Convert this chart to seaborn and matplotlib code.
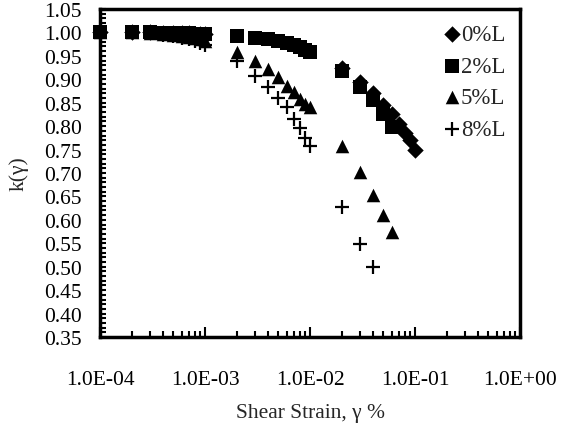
import numpy as np
import pandas as pd
import matplotlib
matplotlib.use("Agg")
import matplotlib.pyplot as plt
import seaborn as sns
from matplotlib.ticker import MultipleLocator, LogLocator, NullFormatter, FormatStrFormatter

# shear strain (%) and k(gamma) for each lime content
strain_lo = [1e-4, 2e-4, 3e-4, 4e-4, 5e-4, 6e-4, 7e-4, 8e-4, 9e-4, 1e-3]
strain_mid = [2e-3, 3e-3, 4e-3, 5e-3, 6e-3, 7e-3, 8e-3, 9e-3, 1e-2]

x_0 = strain_lo + [2e-2, 3e-2, 4e-2, 5e-2, 6e-2, 7e-2, 8e-2, 9e-2, 1e-1]
k_0 = [1.0, 1.0, 1.0, 0.999, 0.999, 0.998, 0.998, 0.997, 0.997, 0.996,
       0.925, 0.895, 0.87, 0.845, 0.825, 0.805, 0.785, 0.77, 0.75]

x_2 = strain_lo + strain_mid + [2e-2, 3e-2, 4e-2, 5e-2, 6e-2]
k_2 = [1.0, 1.0, 1.0, 0.999, 0.999, 0.998, 0.998, 0.997, 0.997, 0.996,
       0.992, 0.989, 0.985, 0.981, 0.977, 0.973, 0.968, 0.963, 0.958,
       0.918, 0.884, 0.855, 0.826, 0.798]

x_5 = strain_lo + strain_mid + [2e-2, 3e-2, 4e-2, 5e-2, 6e-2]
k_5 = [1.0, 1.0, 0.999, 0.997, 0.995, 0.993, 0.99, 0.988, 0.985, 0.982,
       0.958, 0.939, 0.922, 0.905, 0.886, 0.873, 0.858, 0.847, 0.841,
       0.758, 0.702, 0.653, 0.61, 0.574]

x_8 = strain_lo + strain_mid + [2e-2, 3e-2, 4e-2]
k_8 = [1.0, 1.0, 0.998, 0.995, 0.992, 0.989, 0.985, 0.981, 0.977, 0.973,
       0.939, 0.908, 0.884, 0.861, 0.84, 0.815, 0.795, 0.775, 0.758,
       0.627, 0.549, 0.499]

labels = ["0%L", "2%L", "5%L", "8%L"]
xticklabels = ["1.0E-04", "1.0E-03", "1.0E-02", "1.0E-01", "1.0E+00"]

sns.set_theme(style="white")
plt.rcParams['font.family'] = ['Liberation Serif', 'DejaVu Serif']

fig = plt.figure(figsize=(5.66, 4.39), dpi=100)
ax = fig.add_axes([100/566, 1-338/439, 420/566, 328/439])

series = [(x_0, k_0, "D", 70), (x_2, k_2, "s", 90), (x_5, k_5, "^", 95), (x_8, k_8, "+", 100)]
for (xs, ks, m, s), lab in zip(series, labels):
    df = pd.DataFrame({"x": xs, "k": ks})
    if m == "+":
        sns.scatterplot(data=df, x="x", y="k", marker=m, s=s, color="black",
                        linewidth=1.6, ax=ax, label=lab, zorder=3, clip_on=False)
    else:
        sns.scatterplot(data=df, x="x", y="k", marker=m, s=s, color="black",
                        edgecolor="black", linewidth=0, ax=ax, label=lab,
                        zorder=3, clip_on=False)

ax.set_xscale("log")
ax.set_xlim(1e-4, 1)
ax.set_ylim(0.35, 1.05)
ax.xaxis.set_minor_locator(LogLocator(base=10, subs=np.arange(2, 10), numticks=20))
ax.xaxis.set_minor_formatter(NullFormatter())
ax.set_xticks([1e-4, 1e-3, 1e-2, 1e-1, 1])
ax.set_xticklabels(xticklabels)
ax.yaxis.set_major_locator(MultipleLocator(0.05))
ax.yaxis.set_minor_locator(MultipleLocator(0.01))
ax.yaxis.set_major_formatter(FormatStrFormatter("%.2f"))

ax.tick_params(axis="both", which="both", direction="in", colors="black",
               bottom=True, left=True, top=False, right=False, labelsize=15.5)
ax.tick_params(axis="x", which="major", length=7, width=1.5, pad=24)
ax.tick_params(axis="x", which="minor", length=4, width=1.5)
ax.tick_params(axis="y", which="major", length=4, width=1.5, pad=13)
ax.tick_params(axis="y", which="minor", length=4, width=1.5)

for sp in ax.spines.values():
    sp.set_color("black")
    sp.set_linewidth(2.5)

ax.set_xlabel("Shear Strain, γ %", fontsize=15.5, labelpad=10)
ax.set_ylabel("k(γ)", fontsize=15.5, labelpad=11)

ax.legend(loc="upper left", bbox_to_anchor=(0.824, 0.955), frameon=False,
          fontsize=16.5, handlelength=0.5, handletextpad=0.15,
          labelspacing=0.47, borderaxespad=0, borderpad=0)

fig.savefig("out.png", dpi=100)
